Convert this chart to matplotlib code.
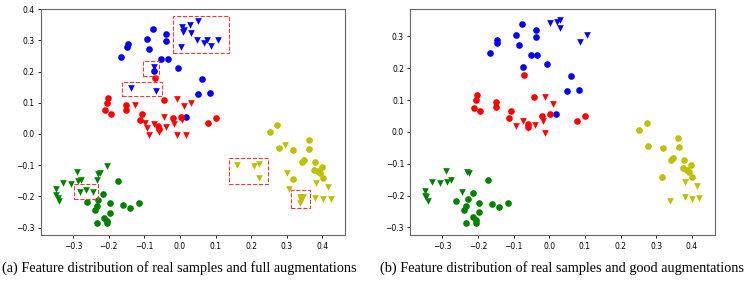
import matplotlib
matplotlib.use("Agg")
import matplotlib.pyplot as plt
from matplotlib.patches import Rectangle

# real samples (same in both panels)
blue_cx = [-0.077, -0.038, -0.038, -0.093, -0.146, -0.148, -0.086, -0.166, -0.052, -0.034, -0.006, -0.073, 0.061, 0.051, 0.084, 0.018]
blue_cy = [0.338, 0.320, 0.299, 0.305, 0.290, 0.278, 0.274, 0.248, 0.240, 0.242, 0.213, 0.203, 0.176, 0.128, 0.130, 0.055]
red_cx = [-0.071, -0.202, -0.206, -0.211, -0.193, -0.150, -0.150, -0.044, -0.106, -0.112, -0.061, -0.060, -0.019, 0.003, 0.079, 0.101]
red_cy = [0.179, 0.115, 0.099, 0.076, 0.064, 0.094, 0.077, 0.108, 0.064, 0.045, 0.025, 0.015, 0.051, 0.056, 0.035, 0.050]
green_cx = [-0.173, -0.215, -0.262, -0.229, -0.197, -0.161, -0.141, -0.115, -0.233, -0.239, -0.197, -0.213, -0.205, -0.205, -0.233]
green_cy = [-0.150, -0.192, -0.217, -0.212, -0.222, -0.228, -0.237, -0.222, -0.232, -0.244, -0.252, -0.268, -0.278, -0.286, -0.287]
yellow_cx = [0.273, 0.253, 0.278, 0.318, 0.362, 0.363, 0.378, 0.347, 0.343, 0.399, 0.375, 0.387, 0.392, 0.401, 0.316]
yellow_cy = [0.029, 0.006, -0.044, -0.052, -0.019, -0.049, -0.089, -0.082, -0.090, -0.105, -0.114, -0.120, -0.126, -0.141, -0.143]

# full augmentations (a)
blue_tx_a = [0.051, 0.027, 0.005, 0.012, 0.010, 0.030, 0.002, 0.047, 0.068, 0.076, 0.086, 0.106, -0.073, -0.136, -0.068]
blue_ty_a = [0.364, 0.349, 0.343, 0.335, 0.326, 0.323, 0.280, 0.301, 0.293, 0.302, 0.281, 0.303, 0.214, 0.147, 0.137]
red_tx_a = [-0.127, -0.009, 0.011, 0.030, -0.046, 0.005, -0.098, -0.074, -0.092, -0.039, -0.017, -0.088, -0.060, -0.009, 0.017]
red_ty_a = [0.094, 0.111, 0.089, 0.098, 0.053, 0.046, 0.034, 0.031, 0.020, 0.022, 0.032, -0.004, 0.006, -0.002, -0.002]
green_tx_a = [-0.206, -0.225, -0.230, -0.232, -0.289, -0.328, -0.305, -0.286, -0.277, -0.347, -0.347, -0.343, -0.340, -0.281, -0.265, -0.245]
green_ty_a = [-0.103, -0.124, -0.128, -0.148, -0.123, -0.156, -0.159, -0.152, -0.149, -0.177, -0.197, -0.204, -0.215, -0.187, -0.179, -0.187]
yellow_tx_a = [0.296, 0.300, 0.307, 0.380, 0.401, 0.423, 0.415, 0.381, 0.338, 0.344, 0.341, 0.338, 0.161, 0.207, 0.221, 0.223]
yellow_ty_a = [-0.036, -0.126, -0.176, -0.204, -0.209, -0.208, -0.169, -0.158, -0.203, -0.203, -0.212, -0.222, -0.099, -0.103, -0.096, -0.140]

# good augmentations (b)
blue_tx_b = [0.003, 0.022, 0.030, 0.029, 0.086, 0.105]
blue_ty_b = [0.341, 0.346, 0.350, 0.325, 0.281, 0.304]
red_tx_b = [-0.011, 0.010, -0.075, -0.094, -0.061, -0.040, -0.017, -0.011]
red_ty_b = [0.110, 0.089, 0.033, 0.019, 0.011, 0.020, 0.033, -0.003]
green_tx_b = [-0.289, -0.230, -0.226, -0.328, -0.306, -0.288, -0.277, -0.349, -0.349, -0.345, -0.341, -0.246]
green_ty_b = [-0.124, -0.126, -0.128, -0.157, -0.160, -0.159, -0.151, -0.185, -0.200, -0.205, -0.216, -0.188]
yellow_tx_b = [0.380, 0.414, 0.339, 0.380, 0.401, 0.421]
yellow_ty_b = [-0.159, -0.169, -0.217, -0.206, -0.211, -0.209]

# bad augmentations highlighted in (a): (x0, y0, x1, y1)
boxes = [(-0.019, 0.260, 0.139, 0.380),
         (-0.103, 0.185, -0.058, 0.233),
         (-0.163, 0.121, -0.050, 0.168),
         (-0.298, -0.209, -0.230, -0.161),
         (0.139, -0.161, 0.246, -0.076),
         (0.313, -0.238, 0.366, -0.179)]

captions = ["(a) Feature distribution of real samples and full augmentations",
            "(b) Feature distribution of real samples and good augmentations"]

fig = plt.figure(figsize=(7.56, 2.82), dpi=100)
ax1 = fig.add_axes([0.0542, 0.1656, 0.4025, 0.8014])
ax2 = fig.add_axes([0.5427, 0.1656, 0.4025, 0.8014])

S = 23
for ax, tri in [(ax1, [(blue_tx_a, blue_ty_a), (red_tx_a, red_ty_a), (green_tx_a, green_ty_a), (yellow_tx_a, yellow_ty_a)]),
                (ax2, [(blue_tx_b, blue_ty_b), (red_tx_b, red_ty_b), (green_tx_b, green_ty_b), (yellow_tx_b, yellow_ty_b)])]:
    for (cx, cy), (tx, ty), c in zip([(blue_cx, blue_cy), (red_cx, red_cy), (green_cx, green_cy), (yellow_cx, yellow_cy)],
                                     tri, ['b', 'r', 'g', 'y']):
        ax.scatter(cx, cy, s=S, c=c, marker='o', linewidths=0)
        ax.scatter(tx, ty, s=S, c=c, marker='v', linewidths=0)
    ax.set_xlim(-0.390, 0.464)
    ax.set_xticks([-0.3, -0.2, -0.1, 0.0, 0.1, 0.2, 0.3, 0.4])
    ax.tick_params(labelsize=5.5, length=2.5, width=0.6, pad=2)
    for sp in ax.spines.values():
        sp.set_color('0.4')
        sp.set_linewidth(0.8)

ax1.set_ylim(-0.325, 0.400)
ax2.set_ylim(-0.325, 0.385)
ax2.set_yticks([-0.3, -0.2, -0.1, 0.0, 0.1, 0.2, 0.3])

for x0, y0, x1, y1 in boxes:
    ax1.add_patch(Rectangle((x0, y0), x1 - x0, y1 - y0, fill=False,
                            edgecolor='#ff3333', linestyle='--', linewidth=0.8))

fig.text(2 / 756, 0.05, captions[0], family='Liberation Serif', fontsize=10.3, va='center')
fig.text(380 / 756, 0.05, captions[1], family='Liberation Serif', fontsize=10.3, va='center')

fig.savefig("out.png", dpi=100)
